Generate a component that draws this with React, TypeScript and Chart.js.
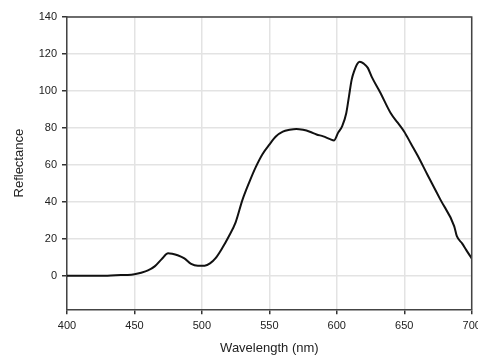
import React, { useEffect, useRef } from "react";
import { Chart, registerables } from "chart.js";

Chart.register(...registerables);

const wavelengths = [400, 410, 420, 430, 440, 445, 450, 455, 460, 465, 470, 475, 478, 482, 487, 492, 497, 502, 506, 510, 515, 520, 525, 530, 535, 540, 545, 550, 555, 560, 565, 570, 575, 580, 585, 590, 595, 598, 601, 604, 607, 609, 611, 613, 615, 617, 620, 623, 626, 632, 640, 645, 650, 655, 660, 667, 677, 687, 689, 693, 696, 700];
const reflectance = [0.2, 0.2, 0.2, 0.2, 0.5, 0.6, 1.0, 1.8, 3.0, 5.2, 9.0, 12.3, 12.0, 11.2, 9.5, 6.5, 5.5, 5.6, 6.8, 9.5, 15, 21.5, 29, 41, 50.5, 59, 66, 71, 75.5, 78, 79, 79.5, 79, 78, 76.5, 75.5, 74, 73.3, 77.5, 81, 88, 97, 106, 111, 114.5, 115.8, 114.8, 112.5, 107.5, 99.5, 88, 83, 78, 71.5, 65, 55, 41, 27, 21.5, 17.5, 14, 9.5];
const xTicks = [400, 450, 500, 550, 600, 650, 700];
const yTicks = [0, 20, 40, 60, 80, 100, 120, 140];

const FONT = "'Liberation Sans', Arial, Helvetica, sans-serif";

export default function App() {
  const ref = useRef<HTMLCanvasElement | null>(null);

  useEffect(() => {
    if (!ref.current) return;
    const framePlugin = {
      id: "frame",
      afterDraw(chart: any) {
        const { ctx, chartArea } = chart;
        ctx.save();
        ctx.strokeStyle = "#444";
        ctx.lineWidth = 1.5;
        ctx.beginPath();
        ctx.moveTo(chartArea.left, chartArea.top);
        ctx.lineTo(chartArea.right, chartArea.top);
        ctx.lineTo(chartArea.right, chartArea.bottom);
        ctx.stroke();
        ctx.restore();
      },
    };
    const chart = new Chart(ref.current, {
      type: "line",
      data: {
        datasets: [
          {
            data: wavelengths.map((w, i) => ({ x: w, y: reflectance[i] })),
            borderColor: "#111",
            borderWidth: 2,
            pointRadius: 0,
            cubicInterpolationMode: "monotone",
            fill: false,
          },
        ],
      },
      options: {
        responsive: false,
        animation: false,
        layout: { padding: { top: 17, right: 28.3, left: 0, bottom: 0 } },
        plugins: { legend: { display: false }, tooltip: { enabled: false } },
        scales: {
          x: {
            type: "linear",
            min: 400,
            max: 700,
            afterBuildTicks: (s: any) => {
              s.ticks = xTicks.map((v) => ({ value: v }));
            },
            afterFit: (s: any) => {
              s.height = 48.7;
            },
            grid: { color: "#e3e3e3", lineWidth: 1.5, tickColor: "#333", tickLength: 5 },
            border: { color: "#444", width: 1.5 },
            ticks: { color: "#222", font: { family: FONT, size: 11 }, padding: 5, maxRotation: 0 },
            title: {
              display: true,
              text: "Wavelength (nm)",
              color: "#222",
              font: { family: FONT, size: 13 },
              padding: { top: 0, bottom: 2 },
            },
          },
          y: {
            min: -18,
            max: 140,
            afterBuildTicks: (s: any) => {
              s.ticks = yTicks.map((v) => ({ value: v }));
            },
            afterFit: (s: any) => {
              s.width = 67;
            },
            grid: { color: "#e3e3e3", lineWidth: 1.5, tickColor: "#333", tickLength: 5 },
            border: { color: "#444", width: 1.5 },
            ticks: { color: "#222", font: { family: FONT, size: 11 }, padding: 5 },
            title: {
              display: true,
              text: "Reflectance",
              color: "#222",
              font: { family: FONT, size: 13 },
              padding: { top: 12, bottom: 0 },
            },
          },
        },
      },
      plugins: [framePlugin],
    } as any);
    return () => chart.destroy();
  }, []);

  return (
    <div style={{ position: "fixed", left: 0, top: 0, width: 478, height: 358, overflow: "hidden", background: "#fff" }}>
      <canvas ref={ref} width={500} height={358} style={{ display: "block" }} />
    </div>
  );
}
